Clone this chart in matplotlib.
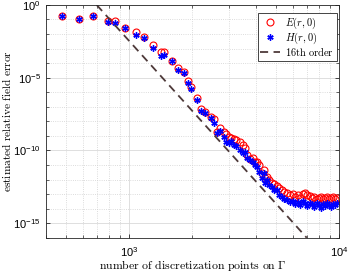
import matplotlib
matplotlib.use('Agg')
import matplotlib.pyplot as plt
from matplotlib.ticker import LogLocator, NullFormatter

plt.rcParams['font.family'] = ['Liberation Sans', 'DejaVu Sans']
plt.rcParams['mathtext.fontset'] = 'cm'

# discretization points
n_pts = [481, 576, 672, 797, 858, 960, 1083, 1179, 1305, 1416,
         1468, 1597, 1698, 1828, 1904, 1973, 2101, 2203, 2301, 2449,
         2520, 2616, 2713, 2812, 2887, 2971, 3060, 3138, 3232, 3351,
         3478, 3568, 3635, 3769, 3874, 3981, 4038, 4128, 4266, 4361,
         4428, 4526, 4642, 4760, 4876, 5028, 5180, 5323, 5471, 5654,
         5843, 6005, 6172, 6344, 6521, 6702, 6890, 7042, 7237, 7437,
         7603, 7815, 7988, 8210, 8392, 8577, 8769, 8964, 9160, 9363,
         9572, 9784]

err_E = [0.167, 0.104, 0.167, 0.0834, 0.0795, 0.0251, 0.0133, 6.03e-3, 1.78e-3, 5.61e-4,
         5.61e-4, 1.42e-4, 4.46e-5, 2.37e-5, 6.27e-6, 2.43e-6, 4.26e-7, 7.11e-8, 4.64e-8, 2.10e-8,
         1.39e-8, 1.96e-9, 3.52e-9, 1.96e-9, 1.36e-9, 8.87e-10, 7.23e-10, 5.89e-10, 5.27e-10, 3.84e-10,
         2.39e-10, 1.49e-10, 4.91e-11, 2.48e-11, 3.05e-11, 1.70e-11, 1.55e-11, 1.01e-11, 2.71e-12, 4.57e-12,
         1.23e-12, 1.58e-12, 9.39e-13, 5.57e-13, 4.99e-13, 3.81e-13, 2.65e-13, 1.93e-13, 1.41e-13, 1.20e-13,
         8.74e-14, 1.02e-13, 6.4e-14, 8.7e-14, 5.4e-14, 1.0e-13, 1.2e-13, 8.7e-14, 7.5e-14, 5.4e-14,
         6.4e-14, 4.6e-14, 5.4e-14, 6.4e-14, 4.6e-14, 5.4e-14, 6.4e-14, 4.6e-14, 5.4e-14, 6.4e-14,
         4.6e-14, 5.4e-14]

err_H = [0.167, 0.104, 0.167, 0.0679, 0.0608, 0.0251, 8.67e-3, 5.14e-3, 1.06e-3, 3.13e-4,
         3.49e-4, 1.42e-4, 3.41e-5, 2.02e-5, 4.57e-6, 1.61e-6, 2.96e-7, 5.19e-8, 3.96e-8, 1.71e-8,
         7.76e-9, 1.52e-9, 2.19e-9, 8.87e-10, 4.02e-10, 3.44e-10, 4.50e-10, 2.39e-10, 2.04e-10, 1.08e-10,
         6.42e-11, 7.88e-11, 2.91e-11, 2.22e-11, 1.62e-11, 1.01e-11, 7.71e-12, 3.49e-12, 1.29e-12, 2.71e-12,
         5.57e-13, 9.39e-13, 4.25e-13, 3.25e-13, 1.93e-13, 1.93e-13, 8.74e-14, 6.37e-14, 4.64e-14, 3.96e-14,
         2.88e-14, 3.38e-14, 2.1e-14, 2.9e-14, 1.8e-14, 3.4e-14, 2.5e-14, 1.5e-14, 2.5e-14, 2.1e-14,
         1.3e-14, 2.5e-14, 1.8e-14, 1.1e-14, 2.1e-14, 1.5e-14, 2.5e-14, 1.8e-14, 1.3e-14, 2.1e-14,
         1.8e-14, 2.5e-14]

# 16th order reference line end points
n_ref = [700, 7000]
err_ref = [1.0, 1e-16]

fig = plt.figure(figsize=(3.48, 2.73), dpi=100)
ax = fig.add_axes([0.131, 0.129, 0.844, 0.853])

ax.loglog(n_pts, err_E, 'o', mfc='none', mec='red', ms=5, mew=0.8,
          label=r'$E(r,0)$')
ax.loglog(n_pts, err_H, ls='none', marker=(6, 2, 0), color='blue', ms=4.5,
          mew=1.0, label=r'$H(r,0)$')
ax.loglog(n_ref, err_ref, '--', color='#4e3a3a', lw=1.3, dashes=(4.5, 3),
          label=r'$\mathrm{16th\ order}$')

ax.set_xlim(400, 1e4)
ax.set_ylim(1e-16, 1)

ax.set_yticks([1e-15, 1e-10, 1e-5, 1])
ax.yaxis.set_minor_locator(LogLocator(base=10, subs=(1.0,), numticks=30))
ax.yaxis.set_minor_formatter(NullFormatter())
ax.set_xticks([1e3, 1e4])
ax.xaxis.set_minor_locator(LogLocator(base=10, subs=range(2, 10), numticks=20))
ax.xaxis.set_minor_formatter(NullFormatter())

ax.grid(True, which='major', color='#d9d9d9', lw=0.6, ls='-')
ax.grid(True, which='minor', color='#d0d0d0', lw=0.6, ls=':')
ax.set_axisbelow(True)

ax.tick_params(which='both', direction='in', top=True, right=True,
               labelsize=8, colors='#262626', labelcolor='black')
ax.tick_params(axis='x', which='major', pad=5)
ax.tick_params(which='major', length=3, width=0.6)
ax.tick_params(which='minor', length=2, width=0.5)
for sp in ax.spines.values():
    sp.set_color('#262626')
    sp.set_linewidth(0.6)

ax.set_xlabel(r'$\mathrm{number\ of\ discretization\ points\ on\ }\Gamma$',
              fontsize=8.5)
ax.set_ylabel(r'$\mathrm{estimated\ relative\ field\ error}$',
              fontsize=8.2)
ax.xaxis.set_label_coords(0.5, -0.088)
ax.yaxis.set_label_coords(-0.112, 0.5)

leg = ax.legend(loc='upper right', bbox_to_anchor=(0.991, 0.966),
                fontsize=7.5, fancybox=False,
                edgecolor='#262626', framealpha=1, borderpad=0.25,
                handlelength=1.9, handletextpad=0.5, labelspacing=0.0,
                borderaxespad=0)
leg.get_frame().set_linewidth(0.6)

fig.savefig('out.png', dpi=100)
